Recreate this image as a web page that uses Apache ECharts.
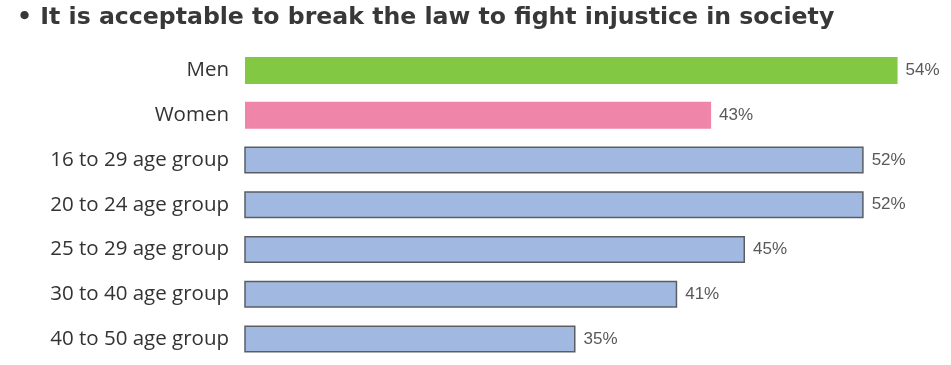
<!DOCTYPE html>
<html><head><meta charset="utf-8">
<script src="https://cdn.jsdelivr.net/npm/echarts@6/dist/echarts.min.js"></script>
<style>html,body{margin:0;padding:0;background:#fff}#c{width:951px;height:365px}</style>
</head><body><div id="c"></div>
<script>
const titleText = '\u2022 It is acceptable to break the law to fight injustice in society';
const categories = ['Men', 'Women', '16 to 29 age group', '20 to 24 age group', '25 to 29 age group', '30 to 40 age group', '40 to 50 age group'];
const values = [54, 43, 52, 52, 45, 41, 35];
const colors = ['#82c843', '#ef85a9', '#a1b8e1', '#a1b8e1', '#a1b8e1', '#a1b8e1', '#a1b8e1'];

const chart = echarts.init(document.getElementById('c'));
chart.setOption({
  animation: false,
  title: {
    text: titleText, left: 12, top: 1,
    textStyle: { fontFamily: 'DejaVu Sans', fontWeight: 'bold', fontSize: 23.6, color: '#383838' }
  },
  grid: { left: 245, right: 36.5, top: 48, bottom: 3.5 },
  xAxis: { type: 'value', min: 15.5, max: 55, show: false },
  yAxis: {
    type: 'category', data: categories, inverse: true,
    axisLine: { show: false }, axisTick: { show: false },
    axisLabel: { margin: 16, fontFamily: 'Open Sans', fontSize: 20.5, color: '#333' }
  },
  series: [{
    type: 'bar', barWidth: 27,
    data: values.map((v, i) => ({
      value: v,
      itemStyle: { color: colors[i], borderColor: i < 2 ? colors[i] : '#5a5e63', borderWidth: i < 2 ? 0 : 1.5 }
    })),
    label: {
      show: true, position: 'right', distance: 8, formatter: '{c}%',
      fontFamily: 'Liberation Sans', fontSize: 17, color: '#595959'
    }
  }]
});
</script></body></html>
